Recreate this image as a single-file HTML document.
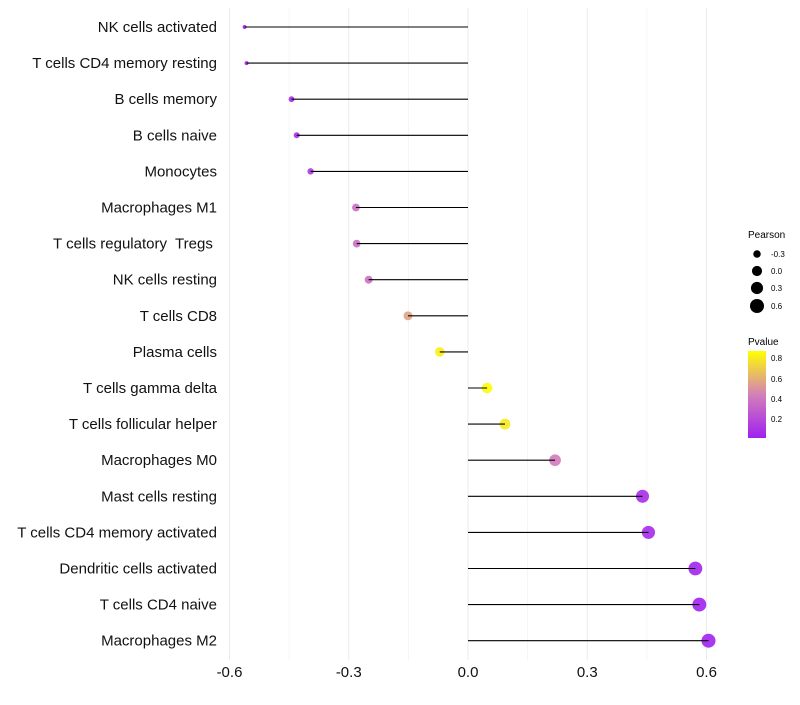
<!DOCTYPE html>
<html><head><meta charset="utf-8"><style>
body{margin:0;background:#fff;font-family:"Liberation Sans",sans-serif;}
svg text{font-family:"Liberation Sans",sans-serif;white-space:pre;}
</style></head><body>
<svg id="chart" width="800" height="700" xmlns="http://www.w3.org/2000/svg">
<defs><linearGradient id="pg" x1="0" y1="1" x2="0" y2="0">
<stop offset="0" stop-color="#A020F0"/><stop offset="0.5" stop-color="#D480B8"/><stop offset="1" stop-color="#FFFF00"/>
</linearGradient></defs>
<g id="grid"></g><g id="marks"></g><g id="labels"></g>
<g>
<text x="748" y="238" font-size="10">Pearson</text>
<circle cx="757" cy="254" r="3.75"/><text x="771" y="257" font-size="8">-0.3</text>
<circle cx="757" cy="271" r="5.07"/><text x="771" y="274" font-size="8">0.0</text>
<circle cx="757" cy="288" r="6.07"/><text x="771" y="291" font-size="8">0.3</text>
<circle cx="757" cy="306" r="7"/><text x="771" y="309" font-size="8">0.6</text>
</g>
<g>
<text x="748" y="345" font-size="10">Pvalue</text>
<rect x="748" y="351" width="18" height="87" fill="url(#pg)"/>
<text x="771" y="361" font-size="8">0.8</text>
<text x="771" y="382" font-size="8">0.6</text>
<text x="771" y="402" font-size="8">0.4</text>
<text x="771" y="422" font-size="8">0.2</text>
</g>
</svg>
<script>
const categories=["NK cells activated","T cells CD4 memory resting","B cells memory","B cells naive","Monocytes","Macrophages M1","T cells regulatory  Tregs ","NK cells resting","T cells CD8","Plasma cells","T cells gamma delta","T cells follicular helper","Macrophages M0","Mast cells resting","T cells CD4 memory activated","Dendritic cells activated","T cells CD4 naive","Macrophages M2"];
const pearson=[-0.562,-0.557,-0.444,-0.431,-0.396,-0.282,-0.280,-0.250,-0.151,-0.071,0.048,0.093,0.219,0.439,0.454,0.572,0.582,0.605];
const pvalue=[0.02,0.02,0.08,0.08,0.12,0.36,0.36,0.38,0.56,0.82,0.86,0.8,0.42,0.07,0.06,0.03,0.02,0.02];
const xticks=[-0.6,-0.3,0.0,0.3,0.6];
const NS="http://www.w3.org/2000/svg";
const x=v=>468+v*397.5;
const y=i=>27+i*36.1;
function mk(t,a,p){const e=document.createElementNS(NS,t);for(const k in a)e.setAttribute(k,a[k]);p.appendChild(e);return e;}
function col(p){const t=Math.max(0,Math.min(1,(p-0.013)/(0.87-0.013)));
const s=[[160,32,240],[212,128,184],[255,255,0]];let a,b,u;
if(t<0.5){a=s[0];b=s[1];u=t/0.5}else{a=s[1];b=s[2];u=(t-0.5)/0.5}
return `rgb(${a.map((c,k)=>Math.round(c+(b[k]-c)*u)).join(",")})`;}
const grid=document.getElementById('grid'),marks=document.getElementById('marks'),labels=document.getElementById('labels');
for(let k=-4;k<=4;k++){const v=k*0.15;const l=mk('line',{x1:x(v),x2:x(v),y1:8,y2:660,stroke:'#ebebeb','stroke-width':k%2?0.5:1},grid);
}
xticks.forEach(v=>{const t=mk('text',{x:x(v),y:677,'font-size':15,'text-anchor':'middle',fill:'#111'},labels);t.textContent=v.toFixed(1);
});
categories.forEach((c,i)=>{
const t=mk('text',{x:217,y:y(i)+5,'font-size':15,'text-anchor':'end',fill:'#111'},labels);t.textContent=c;

const r=Math.sqrt(Math.max(1,25.7+38.8*pearson[i]));
const d=mk('circle',{cx:x(pearson[i]),cy:y(i),r:r,fill:col(pvalue[i]),'fill-opacity':0.9},marks);

const l=mk('line',{x1:x(0),x2:x(pearson[i]),y1:y(i),y2:y(i),stroke:'#000','stroke-width':1.1},marks);

});
</script>
</body></html>
